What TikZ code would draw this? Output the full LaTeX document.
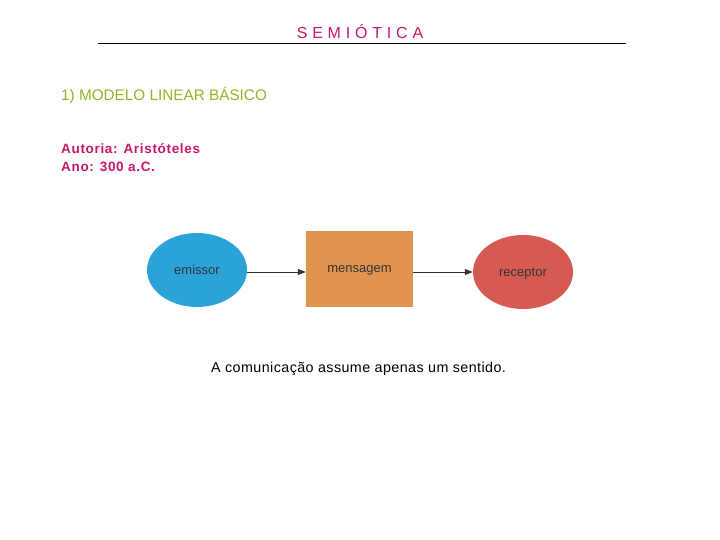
\documentclass[tikz,border=0pt]{standalone}
\usepackage{fontspec}
\setmainfont{Liberation Sans}
\usepackage{xcolor}
\usetikzlibrary{arrows.meta, positioning, shapes.geometric}

\definecolor{titlemagenta}{HTML}{C8176E}
\definecolor{headgreen}{HTML}{8DB52A}
\definecolor{emissorblue}{HTML}{2BA3D8}
\definecolor{mensagemorange}{HTML}{E0944F}
\definecolor{receptorred}{HTML}{D65A53}

\begin{document}
\begin{tikzpicture}[x=1pt, y=-1pt,
    every node/.style={font=\fontsize{13}{15}\selectfont, inner sep=0pt},
    blob/.style={ellipse, minimum width=100pt, minimum height=74pt, text=black!80, text depth=-2pt},
    box/.style={rectangle, minimum width=107pt, minimum height=76pt, text=black!80},
    link/.style={-{Triangle[length=8pt, width=6pt]}, black!80, line width=0.8pt}]
        \useasboundingbox (0,0) rectangle (720,540);
        % Header
        \node[titlemagenta, font=\fontsize{16}{18}\selectfont\addfontfeature{LetterSpace=30}] (title) at (360,32) {SEMIÓTICA};
        \draw[line width=0.8pt] (98,43) -- (626,43);
        \node[headgreen, anchor=west, font=\fontsize{15.3}{17}\selectfont] (modelo) at (61,95) {1) MODELO LINEAR BÁSICO};
        \node[titlemagenta, anchor=west, font=\bfseries\fontsize{13.5}{18}\selectfont\addfontfeature{LetterSpace=5}, align=left] (autoria) at (61,158) {Autoria: Aristóteles\\Ano: 300 a.C.};
        % Linear model
        \node[blob, fill=emissorblue] (emissor) at (197,270) {emissor};
        \node[box, fill=mensagemorange, text depth=-2pt] (mensagem) at (359.5,269) {mensagem};
        \node[blob, fill=receptorred] (receptor) at (523,272) {receptor};
        \draw[link] (emissor.east |- 0,272) -- (mensagem.west |- 0,272);
        \draw[link] (mensagem.east |- 0,272) -- (receptor.west |- 0,272);
        \node[font=\fontsize{14.3}{16}\selectfont\addfontfeature{LetterSpace=3}, anchor=west] (sentido) at (211,369) {A comunicação assume apenas um sentido.};
      \end{tikzpicture}
\end{document}
